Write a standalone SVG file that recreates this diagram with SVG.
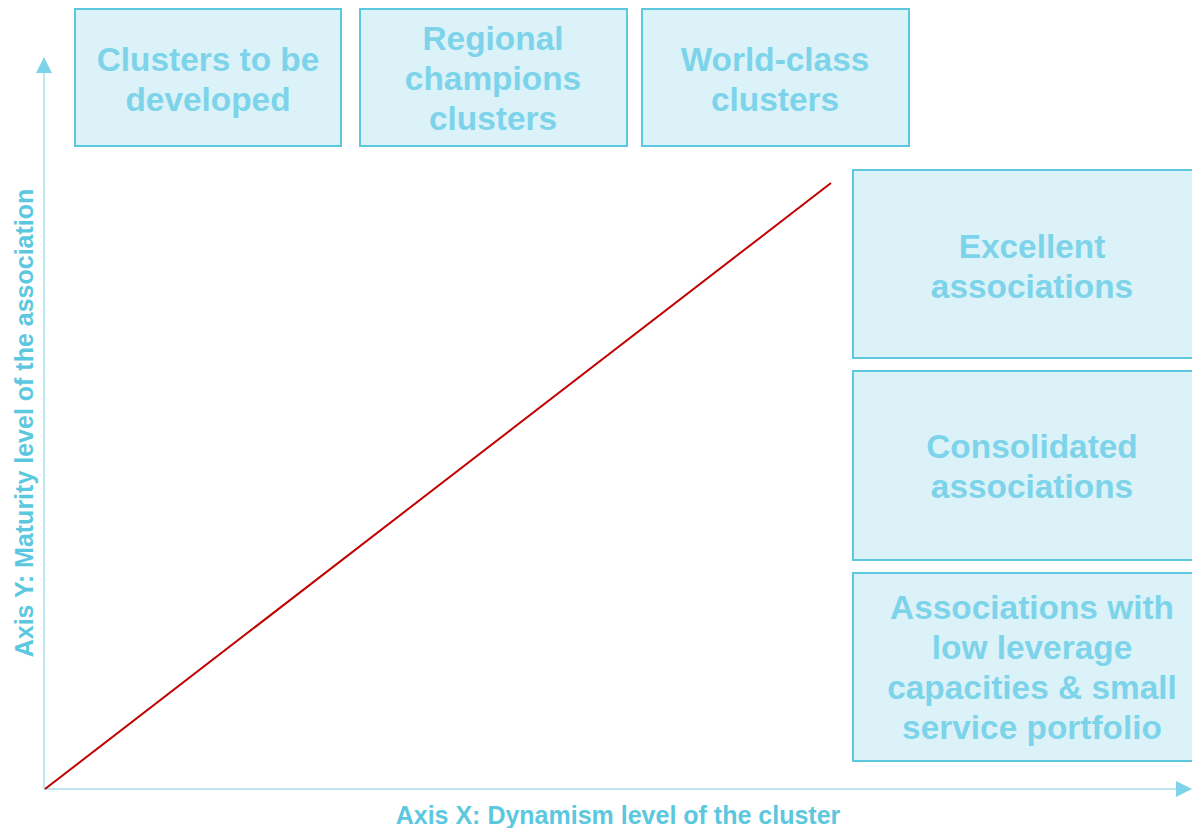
<svg xmlns="http://www.w3.org/2000/svg" width="1192" height="828" viewBox="0 0 1192 828">
<style>
.box{fill:#dbf2f8;stroke:#5bc8e0;stroke-width:2}
.t{font-family:"Liberation Sans",Arial,sans-serif;font-weight:bold;font-size:33.4px;fill:#7dd4ea;text-anchor:middle}
.ax{font-family:"Liberation Sans",Arial,sans-serif;font-weight:bold;font-size:25px;fill:#5bc8e0;text-anchor:middle}
.axis{stroke:#a8dfe8;stroke-width:1.5;fill:none}
</style>
<defs>
<marker id="arrh" viewBox="0 0 16 16" refX="0" refY="8" markerWidth="16" markerHeight="16" markerUnits="userSpaceOnUse" orient="auto">
<path d="M0,0 L16,8 L0,16 z" fill="#7dd4ea"/>
</marker>
</defs>
<g id="connectors">
<line class="axis" x1="44" y1="789" x2="44" y2="73" marker-end="url(#arrh)"/>
<line class="axis" x1="44" y1="789" x2="1176" y2="789" marker-end="url(#arrh)"/>
<line x1="45" y1="789" x2="831" y2="183" stroke="#c00000" stroke-width="2"/>
</g>
<g id="n1"><rect class="box" x="75" y="9" width="266" height="137"/>
<text class="t" x="208" y="71">Clusters to be</text><text class="t" x="208" y="111">developed</text></g>
<g id="n2"><rect class="box" x="360" y="9" width="267" height="137"/>
<text class="t" x="493" y="50">Regional</text><text class="t" x="493" y="90">champions</text><text class="t" x="493" y="130">clusters</text></g>
<g id="n3"><rect class="box" x="642" y="9" width="267" height="137"/>
<text class="t" x="775" y="71">World-class</text><text class="t" x="775" y="111">clusters</text></g>
<g id="n4"><rect class="box" x="853" y="170" width="358" height="188"/>
<text class="t" x="1032" y="258">Excellent</text><text class="t" x="1032" y="298">associations</text></g>
<g id="n5"><rect class="box" x="853" y="371" width="358" height="189"/>
<text class="t" x="1032" y="458">Consolidated</text><text class="t" x="1032" y="498">associations</text></g>
<g id="n6"><rect class="box" x="853" y="573" width="358" height="188"/>
<text class="t" x="1032" y="619">Associations with</text><text class="t" x="1032" y="659">low leverage</text><text class="t" x="1032" y="699">capacities &amp; small</text><text class="t" x="1032" y="739">service portfolio</text></g>
<g id="labels">
<text class="ax" x="618" y="824">Axis X: Dynamism level of the cluster</text>
<text class="ax" transform="translate(33,423) rotate(-90)">Axis Y: Maturity level of the association</text>
</g>
</svg>
